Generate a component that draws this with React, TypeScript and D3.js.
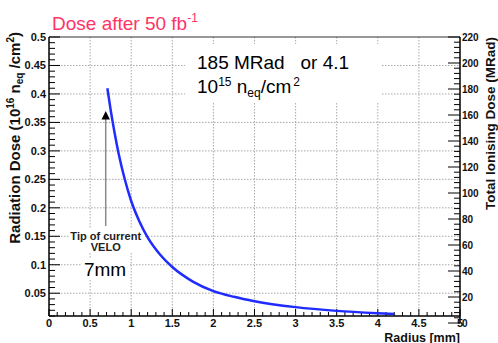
import React from "react";
import * as d3 from "d3";

// ---- data ----
const radiusMm = [0.71, 0.75, 0.8, 0.85, 0.92, 1.0, 1.1, 1.2, 1.35, 1.5, 1.75, 2.0, 2.25, 2.5, 3.0, 3.5, 4.0, 4.2];
const doseValues = [0.41, 0.372, 0.33, 0.293, 0.251, 0.212, 0.176, 0.148, 0.118, 0.096, 0.0705, 0.0538, 0.0437, 0.036, 0.0256, 0.019, 0.0147, 0.0133];
const xTickValues = [0, 0.5, 1, 1.5, 2, 2.5, 3, 3.5, 4, 4.5, 5];
const xTickLabels = ["0", "0.5", "1", "1.5", "2", "2.5", "3", "3.5", "4", "4.5", "5"];
const yTickValues = [0.05, 0.1, 0.15, 0.2, 0.25, 0.3, 0.35, 0.4, 0.45, 0.5];
const yTickLabels = ["0.05", "0.1", "0.15", "0.2", "0.25", "0.3", "0.35", "0.4", "0.45", "0.5"];
const rTickValues = [0, 20, 40, 60, 80, 100, 120, 140, 160, 180, 200, 220];
const tipRadius = [0.69];

const FONT = "'Liberation Sans', Arial, sans-serif";

export default function App() {
  const left = 49, right = 460, top = 37, bottom = 316;
  const x = d3.scaleLinear().domain([0, 5]).range([left, right]);
  const y = d3.scaleLinear().domain([0.01, 0.5]).range([bottom, top]);
  const yr = d3.scaleLinear().domain([0, 220]).range([323, top]);

  const line = d3
    .line<number>()
    .x((_, i) => x(radiusMm[i]))
    .y((d) => y(d))
    .curve(d3.curveMonotoneX);

  const xMinor = d3.range(0, 50.001, 1).map((v) => v / 10);
  const yMinor = d3.range(1, 50.001, 1).map((v) => v / 100);
  const rMinor = d3.range(0, 220.001, 4);
  const isMajor = (v: number, step: number) => Math.abs(v / step - Math.round(v / step)) < 1e-6;

  const gridStyle = { stroke: "#a8a8a8", strokeWidth: 1, strokeDasharray: "1.5,1.5" };
  const tipX = x(tipRadius[0]);

  return (
    <svg width={498} height={343} style={{ position: "absolute", left: 0, top: 0, background: "#fff" }} fontFamily={FONT}>
      <rect x={0} y={0} width={498} height={343} fill="#fff" />
      {/* grid */}
      {xTickValues.slice(1, -1).map((v) => (
        <line key={"gx" + v} x1={x(v)} x2={x(v)} y1={top} y2={bottom} {...gridStyle} />
      ))}
      {yTickValues.slice(0, -1).map((v) => (
        <line key={"gy" + v} x1={left} x2={right} y1={y(v)} y2={y(v)} {...gridStyle} />
      ))}

      {/* white annotation boxes */}
      <rect x={185} y={44} width={197} height={59} fill="#fff" />
      <rect x={70} y={229} width={74} height={24} fill="#fff" />
      <rect x={82} y={258} width={47} height={22} fill="#fff" />

      {/* frame */}
      <line x1={left} x2={right} y1={top} y2={top} stroke="#333" strokeWidth={1.2} />
      <line x1={left} x2={left} y1={top} y2={bottom} stroke="#000" strokeWidth={1.5} />
      <line x1={left} x2={right} y1={bottom} y2={bottom} stroke="#000" strokeWidth={1.5} />
      <line x1={right} x2={right} y1={top} y2={323} stroke="#000" strokeWidth={1.5} />

      {/* x ticks */}
      {xMinor.map((v) => {
        const major = isMajor(v, 0.5);
        return <line key={"xt" + v} x1={x(v)} x2={x(v)} y1={bottom} y2={bottom - (major ? 7 : 4)} stroke="#000" strokeWidth={1} />;
      })}
      {xTickValues.map((v, i) => (
        <text key={"xl" + v} x={x(v)} y={327} textAnchor="middle" fontSize={11} fontWeight="bold" fill="#111">
          {xTickLabels[i]}
        </text>
      ))}

      {/* left y ticks */}
      {yMinor.map((v) => {
        const major = isMajor(v, 0.05);
        return <line key={"yt" + v} x1={left} x2={left + (major ? 11 : 6)} y1={y(v)} y2={y(v)} stroke="#000" strokeWidth={1} />;
      })}
      {yTickValues.map((v, i) => (
        <text key={"yl" + v} x={46} y={y(v) + 4} textAnchor="end" fontSize={11} fontWeight="bold" fill="#111">
          {yTickLabels[i]}
        </text>
      ))}

      {/* right axis ticks */}
      {rMinor.map((v) => {
        const major = isMajor(v, 20);
        return <line key={"rt" + v} x1={right} x2={right - (major ? 12 : 6)} y1={yr(v)} y2={yr(v)} stroke="#000" strokeWidth={1} />;
      })}
      {rTickValues.map((v) => (
        <text key={"rl" + v} x={462} y={yr(v) + 3.5} textAnchor="start" fontSize={10} fontWeight="bold" fill="#111">
          {v}
        </text>
      ))}

      {/* curve */}
      <path d={line(doseValues) || ""} fill="none" stroke="#1f2bff" strokeWidth={2.5} />

      {/* arrow */}
      <line x1={tipX} x2={tipX} y1={119} y2={226} stroke="#8a8a8a" strokeWidth={1.5} />
      <path d={`M${tipX},111 L${tipX - 4.2},119.5 L${tipX + 4.2},119.5 Z`} fill="#000" />

      {/* annotations */}
      <text x={tipX} y={240} textAnchor="middle" fontSize={11} fontWeight="bold" fill="#222">Tip of current</text>
      <text x={tipX} y={251} textAnchor="middle" fontSize={11} fontWeight="bold" fill="#222">VELO</text>
      <text x={105} y={276} textAnchor="middle" fontSize={19} fill="#000">7mm</text>

      <text x={197} y={69} fontSize={19} fill="#000" style={{ whiteSpace: "pre" }}>{"185 MRad   or 4.1"}</text>
      <text x={197} y={93} fontSize={19} fill="#000">
        10
        <tspan fontSize={12} dy={-7}>15</tspan>
        <tspan dy={7}> n</tspan>
        <tspan fontSize={12} dy={4}>eq</tspan>
        <tspan dy={-4}>/cm</tspan>
        <tspan fontSize={12} dy={-7} dx={2}>2</tspan>
      </text>

      {/* title */}
      <text x={52} y={30} fontSize={19} fill="#ff3366">
        Dose after 50 fb
        <tspan fontSize={12} dy={-8}>-1</tspan>
      </text>

      {/* axis titles */}
      <text transform="translate(20,32) rotate(-90)" textAnchor="end" fontSize={15} fontWeight="bold" fill="#111">
        Radiation Dose (10
        <tspan fontSize={10} dy={-6}>16</tspan>
        <tspan dy={6}> n</tspan>
        <tspan fontSize={10} dy={3}>eq</tspan>
        <tspan dy={-3}> /cm</tspan>
        <tspan fontSize={10} dy={-6}>2</tspan>
        <tspan dy={6}>)</tspan>
      </text>
      <text transform="translate(495,37) rotate(-90)" textAnchor="end" fontSize={13.5} fontWeight="bold" fill="#111">
        Total Ionising Dose (MRad)
      </text>
      <text x={460} y={341.5} textAnchor="end" fontSize={12.5} fontWeight="bold" fill="#111">
        Radius [mm]
      </text>
    </svg>
  );
}
